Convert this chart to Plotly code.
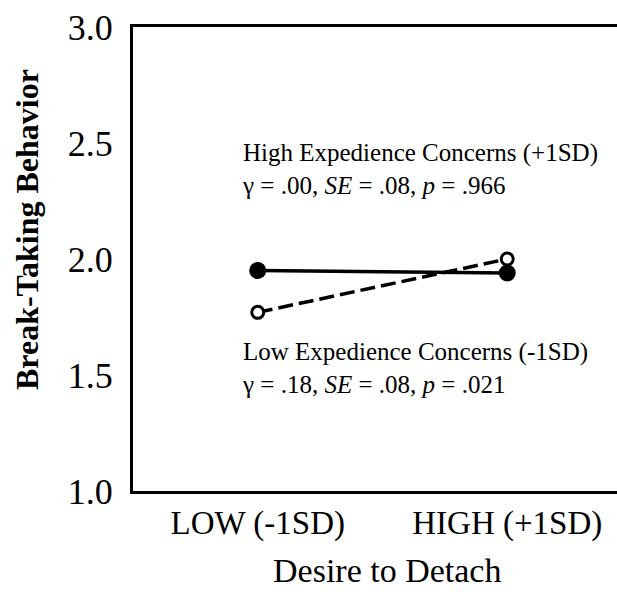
import plotly.graph_objects as go

categories = ["LOW (-1SD)", "HIGH (+1SD)"]
high_concerns = [1.95, 1.94]
low_concerns = [1.77, 2.00]
y_ticks = [1.0, 1.5, 2.0, 2.5, 3.0]
y_ticklabels = ["1.0", "1.5", "2.0", "2.5", "3.0"]

font_family = "Liberation Serif"
xpos = list(range(len(categories)))

fig = go.Figure()
fig.add_trace(go.Scatter(
    x=xpos, y=high_concerns, mode="lines+markers",
    line=dict(color="black", width=3.5),
    marker=dict(symbol="circle", size=17, color="black"),
    showlegend=False))
fig.add_trace(go.Scatter(
    x=xpos, y=low_concerns, mode="lines+markers",
    line=dict(color="black", width=3.5, dash="15px,6px"),
    marker=dict(symbol="circle", size=12, color="white", line=dict(color="black", width=3)),
    showlegend=False))

fig.add_annotation(x=0.221, xref="paper", y=2.39, yref="y", xanchor="left", yanchor="middle",
                   align="left", showarrow=False,
                   text="High Expedience Concerns (+1SD)<br>γ = .00, <i>SE</i> = .08, <i>p</i> = .966",
                   font=dict(family=font_family, size=25, color="black"))
fig.add_annotation(x=0.221, xref="paper", y=1.53, yref="y", xanchor="left", yanchor="middle",
                   align="left", showarrow=False,
                   text="Low Expedience Concerns (-1SD)<br>γ = .18, <i>SE</i> = .08, <i>p</i> = .021",
                   font=dict(family=font_family, size=25, color="black"))

# axis titles placed as annotations to match reference positions
fig.add_annotation(x=0.525, xref="paper", y=-0.172, yref="paper", xanchor="center", yanchor="middle",
                   showarrow=False, text="Desire to Detach", borderpad=0,
                   font=dict(family=font_family, size=34, color="black"))
fig.add_annotation(x=-0.219, xref="paper", y=0.5625, yref="paper", xanchor="center", yanchor="middle",
                   showarrow=False, text="<b>Break-Taking Behavior</b>", textangle=-90,
                   font=dict(family=font_family, size=32, color="black"))

fig.update_layout(
    width=617, height=592,
    margin=dict(l=133, r=0, t=27, b=101),
    plot_bgcolor="white", paper_bgcolor="white",
    font=dict(family=font_family, color="black"),
    xaxis=dict(range=[-0.5, 1.44], tickvals=xpos, ticktext=categories,
               showline=True, linecolor="black", linewidth=3, mirror=True,
               showgrid=False, zeroline=False, ticks="",
               tickfont=dict(size=33, family=font_family), ticklabelstandoff=0),
    yaxis=dict(range=[1.0, 3.0], tickvals=y_ticks, ticktext=y_ticklabels,
               showline=True, linecolor="black", linewidth=3, mirror=False,
               showgrid=False, zeroline=False, ticks="",
               tickfont=dict(size=36, family=font_family), ticklabelstandoff=10),
)

fig.write_html("out.html")
